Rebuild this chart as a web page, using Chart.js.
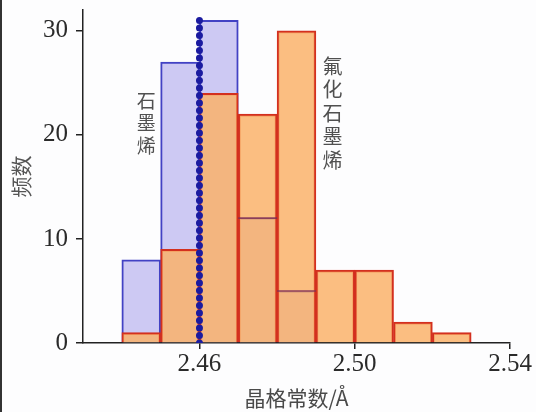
<!DOCTYPE html>
<html>
<head>
<meta charset="utf-8">
<script src="https://cdn.jsdelivr.net/npm/chart.js@4.4.1/dist/chart.umd.min.js"></script>
<style>
  html, body { margin: 0; padding: 0; background: #fdfdfe; }
  #wrap { position: relative; width: 536px; height: 412px; }
  #edge { position: absolute; left: 0; top: 0; width: 2px; height: 412px; background: #333; }
</style>
</head>
<body>
<div id="wrap">
  <canvas id="chart" width="536" height="412"></canvas>
  <div id="edge"></div>
</div>
<script>
// histogram bins (centre of each 0.01 Å bin)
const binCenters = [2.445, 2.455, 2.465, 2.475, 2.485, 2.495, 2.505, 2.515, 2.525];
// counts
const grapheneCounts = [8, 27, 31, 12, 5, null, null, null, null];
const fluoroCounts = [1, 9, 24, 22, 30, 7, 7, 2, 1];
// reference line of graphene lattice constant
const refLineX = 2.46;
const refLineTop = 31;
// axis ticks
const xTicks = [2.46, 2.50, 2.54];
const yTicks = [0, 10, 20, 30];

const cjkFont = '"Noto Sans CJK SC", sans-serif';
const serifFont = '"Liberation Serif", "DejaVu Serif", serif';

// vertical text labels next to the bars
const vertLabels = [
    { text: '石墨烯', x: 2.4463, y: 23.3, step: 22.5, size: 19 },
    { text: '氟化石墨烯', x: 2.4943, y: 26.6, step: 23.5, size: 20 }
];

const vertTextPlugin = {
    id: 'vertText',
    afterDatasetsDraw(chart) {
        const ctx = chart.ctx;
        const xs = chart.scales.x, ys = chart.scales.y;
        ctx.save();
        // graphene bar tops that sit under the orange bars show through as dark lines
        const blue = chart.getDatasetMeta(2).data;
        blue.forEach((bar, i) => {
            if (grapheneCounts[i] != null && fluoroCounts[i] > grapheneCounts[i]) {
                ctx.strokeStyle = 'rgba(125,45,85,0.85)';
                ctx.lineWidth = 1.6;
                ctx.beginPath();
                ctx.moveTo(bar.x - bar.width / 2, bar.y);
                ctx.lineTo(bar.x + bar.width / 2, bar.y);
                ctx.stroke();
            }
        });
        ctx.fillStyle = '#505050';
        ctx.textAlign = 'center';
        ctx.textBaseline = 'middle';
        vertLabels.forEach(l => {
            ctx.font = l.size + 'px ' + cjkFont;
            const px = xs.getPixelForValue(l.x);
            const py = ys.getPixelForValue(l.y);
            [...l.text].forEach((ch, i) => ctx.fillText(ch, px, py + i * l.step));
        });
        ctx.restore();
    }
};

const toPoints = arr => arr.map((v, i) => ({ x: binCenters[i], y: v }));

new Chart(document.getElementById('chart'), {
    type: 'bar',
    data: {
        datasets: [
            {
                type: 'line',
                data: [{ x: refLineX, y: 0 }, { x: refLineX, y: refLineTop }],
                borderColor: '#1b1ba0',
                borderWidth: 7,
                borderDash: [0, 7.5],
                borderCapStyle: 'round',
                pointRadius: 0,
                order: 0
            },
            {
                data: toPoints(fluoroCounts),
                backgroundColor: 'rgba(250,178,105,0.84)',
                borderColor: '#d3301f',
                borderWidth: 2,
                order: 1
            },
            {
                data: toPoints(grapheneCounts),
                backgroundColor: '#cdc9f3',
                borderColor: '#4242c4',
                borderWidth: 2,
                order: 2
            }
        ]
    },
    options: {
        responsive: false,
        animation: false,
        grouped: false,
        barPercentage: 1,
        categoryPercentage: 1,
        layout: { padding: { top: 0, right: 26, left: 0, bottom: 0 } },
        plugins: { legend: { display: false }, tooltip: { enabled: false } },
        scales: {
            x: {
                type: 'linear',
                min: 2.43,
                max: 2.54,
                offset: false,
                afterBuildTicks: s => { s.ticks = xTicks.map(v => ({ value: v })); },
                afterFit: s => { s.height = 69; },
                ticks: {
                    font: { family: serifFont, size: 25 },
                    color: '#2a2a2a',
                    padding: 0,
                    maxRotation: 0,
                    callback: v => v.toFixed(2)
                },
                grid: { drawOnChartArea: false, offset: false, tickLength: 6, color: '#222', lineWidth: 1.5 },
                border: { color: '#222', width: 1.5 },
                title: {
                    display: true,
                    text: '晶格常数/Å',
                    font: { family: cjkFont, size: 21 },
                    color: '#4a4a4a',
                    padding: { top: 0, bottom: 1 }
                }
            },
            y: {
                min: 0,
                max: 32,
                afterBuildTicks: s => { s.ticks = yTicks.map(v => ({ value: v })); },
                afterFit: s => { s.width = 83; s.paddingTop = 10; },
                ticks: {
                    font: { family: serifFont, size: 25, lineHeight: 0.7 },
                    color: '#2a2a2a',
                    padding: 8
                },
                grid: { drawOnChartArea: false, tickLength: 7, color: '#222', lineWidth: 1.5 },
                border: { color: '#222', width: 1.5 },
                title: {
                    display: true,
                    text: '频数',
                    font: { family: cjkFont, size: 21 },
                    color: '#555',
                    padding: { top: 8, bottom: 0 }
                }
            }
        }
    },
    plugins: [vertTextPlugin]
});
</script>
</body>
</html>
